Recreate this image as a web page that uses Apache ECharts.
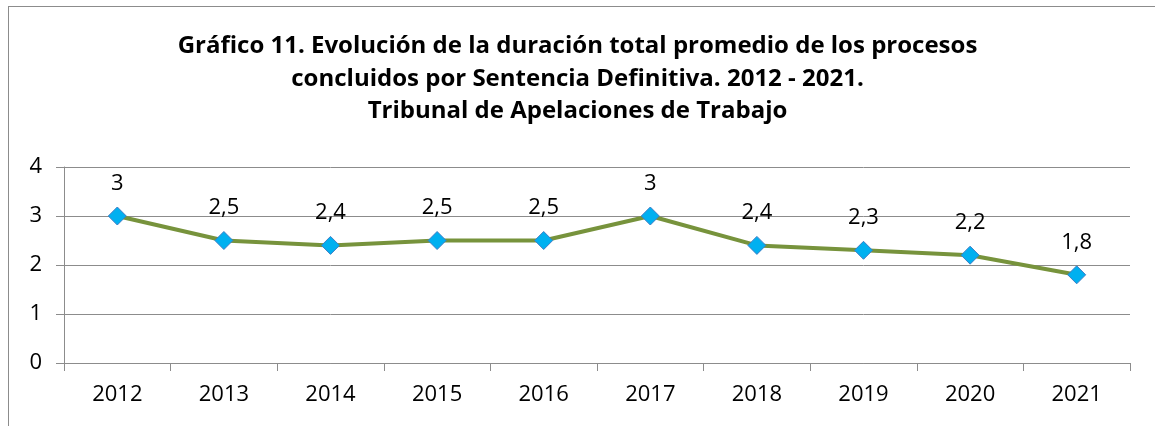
<!DOCTYPE html>
<html>
<head>
<meta charset="utf-8">
<script src="https://cdn.jsdelivr.net/npm/echarts@6/dist/echarts.min.js"></script>
<style>
    html, body {margin: 0; padding: 0; background: #fff;}
    #frame {position: absolute; left: 8px; top: 6px; width: 1200px; height: 500px; border-left: 1px solid #8c8c8c; border-top: 1px solid #8c8c8c;}
    #chart {position: absolute; left: 0; top: 0; width: 1155px; height: 426px;}
</style>
</head>
<body>
<div id="frame"></div>
<div id="chart"></div>
<script>
// datos del gráfico
var years = ['2012', '2013', '2014', '2015', '2016', '2017', '2018', '2019', '2020', '2021'];
var duracion = [3, 2.5, 2.4, 2.5, 2.5, 3, 2.4, 2.3, 2.2, 1.8];
var yTicks = [0, 1, 2, 3, 4];

var titleText = 'Gráfico 11. Evolución de la duración total promedio de los procesos\n' +
    'concluidos por Sentencia Definitiva. 2012 - 2021.\n' +
    'Tribunal de Apelaciones de Trabajo';

var fontFam = '"Open Sans", sans-serif';

var lineChart = echarts.init(document.getElementById('chart'));
var setOption = {
    animation: false,
    title: {
        text: titleText,
        left: 'center',
        top: 25,
        textStyle: {
            fontFamily: fontFam,
            fontSize: 24,
            fontWeight: 'bold',
            color: '#000',
            lineHeight: 32.5
        }
    },
    grid: {
        left: 64,
        right: 25,
        top: 167,
        bottom: 63
    },
    xAxis: {
        type: 'category',
        data: years,
        boundaryGap: true,
        axisLine: {lineStyle: {color: '#8c8c8c', width: 1}},
        axisTick: {show: true, length: 8, lineStyle: {color: '#8c8c8c'}},
        axisLabel: {
            fontFamily: fontFam,
            fontSize: 22,
            color: '#000',
            margin: 21
        }
    },
    yAxis: {
        type: 'value',
        min: yTicks[0],
        max: yTicks[yTicks.length - 1],
        interval: 1,
        axisLine: {show: true, lineStyle: {color: '#8c8c8c', width: 1}},
        axisTick: {show: true, length: 8, lineStyle: {color: '#8c8c8c'}},
        splitLine: {lineStyle: {color: '#8c8c8c', width: 1}},
        axisLabel: {
            fontFamily: fontFam,
            fontSize: 22,
            color: '#000',
            margin: 22
        }
    },
    series: [
        {
            name: 'Duración',
            type: 'line',
            data: duracion,
            symbol: 'diamond',
            symbolSize: 18,
            lineStyle: {color: '#77933C', width: 4},
            itemStyle: {color: '#00B0F0', borderColor: '#3c7cc4', borderWidth: 1},
            label: {
                show: true,
                position: 'top',
                distance: 12,
                fontFamily: fontFam,
                fontSize: 22,
                color: '#000',
                formatter: function (p) {
                    return String(p.value).replace('.', ',');
                }
            }
        }
    ]
};
lineChart.setOption(setOption);
</script>
</body>
</html>
